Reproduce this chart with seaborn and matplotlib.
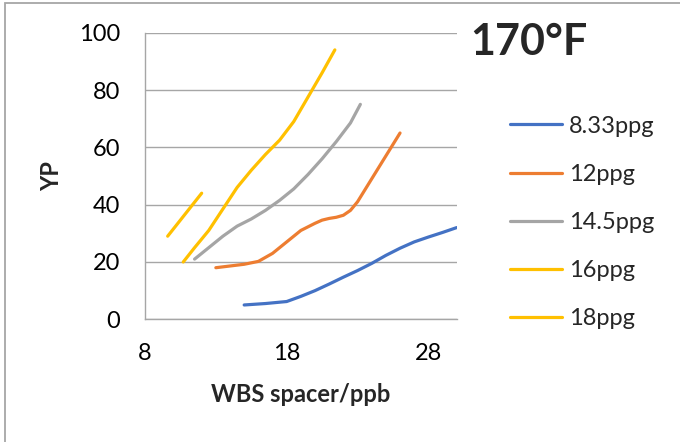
import matplotlib
matplotlib.use("Agg")
import matplotlib.pyplot as plt
import seaborn as sns
import pandas as pd
from matplotlib.patches import Rectangle

# Data (YP vs WBS spacer, 170 F)
x_833 = [15, 16.5, 18, 19, 20, 21, 22, 23, 24, 25, 26, 27, 28, 29, 30]
y_833 = [5, 5.5, 6.2, 8, 10, 12.3, 14.7, 17, 19.5, 22.3, 24.8, 27, 28.7, 30.3, 32]

x_12 = [13, 14, 15, 16, 17, 18, 19, 20, 20.5, 21, 21.5, 22, 22.5, 23, 24, 25, 26]
y_12 = [18, 18.6, 19.2, 20.2, 23, 27, 31, 33.5, 34.6, 35.2, 35.6, 36.3, 38, 41, 49, 57, 65]

x_145 = [11.5, 12.5, 13.5, 14.5, 15.5, 16.5, 17.5, 18.5, 19.5, 20.5, 21.5, 22.5, 23.2]
y_145 = [21, 25, 29, 32.5, 35, 38, 41.5, 45.5, 50.5, 56, 62, 68.5, 75]

x_16 = [10.7, 11.5, 12.5, 13.5, 14.5, 15.5, 16.5, 17.5, 18.5, 19.5, 20.5, 21.4]
y_16 = [20, 25, 31, 38.5, 46, 52, 57.5, 62.5, 69, 77.5, 86, 94]

x_18 = [9.6, 12]
y_18 = [29, 44]

labels = ["8.33ppg", "12ppg", "14.5ppg", "16ppg", "18ppg"]
colors = ["#4472C4", "#ED7D31", "#A5A5A5", "#FFC000", "#FFC000"]
x_ticks = [8, 18, 28]
y_ticks = [0, 20, 40, 60, 80, 100]

sns.set_theme(style="white")
plt.rcParams["font.family"] = ["Lato", "DejaVu Sans"]

frames = []
for lab, xs, ys in zip(labels, [x_833, x_12, x_145, x_16, x_18],
                       [y_833, y_12, y_145, y_16, y_18]):
    frames.append(pd.DataFrame({"x": xs, "y": ys, "series": lab}))
df = pd.concat(frames, ignore_index=True)

fig = plt.figure(figsize=(6.8, 4.42), dpi=100)
ax = fig.add_axes([145 / 680, 1 - 319.3 / 442, (456.7 - 145) / 680, (319.3 - 32.7) / 442])

sns.lineplot(data=df, x="x", y="y", hue="series", hue_order=labels,
             palette=dict(zip(labels, colors)), sort=False, estimator=None,
             linewidth=2.3, ax=ax, legend=False)
for ln in ax.lines:
    ln.set_solid_joinstyle("round")
    ln.set_solid_capstyle("round")

grid_col = "#A6A6A6"
ax.set_xlim(8, 30)
ax.set_ylim(0, 100)
ax.set_xticks(x_ticks)
ax.set_yticks(y_ticks)
ax.yaxis.grid(True, color=grid_col, linewidth=1)
ax.xaxis.grid(False)
for s in ["top", "right"]:
    ax.spines[s].set_visible(False)
for s in ["left", "bottom"]:
    ax.spines[s].set_color(grid_col)
    ax.spines[s].set_linewidth(1)
ax.tick_params(axis="both", which="major", direction="out", length=6,
               width=1, color=grid_col, labelsize=17, labelcolor="black")
ax.tick_params(axis="y", pad=12)
ax.tick_params(axis="x", pad=11)

ax.set_xlabel("")
ax.set_ylabel("")
fig.text(301 / 680, 1 - 394 / 442, "WBS spacer/ppb", ha="center", va="center",
         fontsize=17, fontweight="bold")
fig.text(52 / 680, 1 - 176 / 442, "YP", ha="center", va="center",
         rotation=90, fontsize=17, fontweight="bold")
fig.text(470 / 680, 1 - 55 / 442, "170\u00b0F", ha="left", va="baseline",
         fontsize=31, fontweight="bold")

handles = [plt.Line2D([], [], color=c, linewidth=2.3) for c in colors]
ax.legend(handles, labels, loc="center left", bbox_to_anchor=(510 / 680, 1 - 222.5 / 442),
          bbox_transform=fig.transFigure, frameon=False, fontsize=17,
          handlelength=2.2, handletextpad=0.3, labelspacing=1.15,
          borderpad=0, borderaxespad=0)

# chart-area border (cropped at right/bottom in the reference)
fig.patches.append(Rectangle((5 / 680, -0.1), 1.2, 1 - 3.5 / 442 + 0.1,
                             transform=fig.transFigure, fill=False,
                             edgecolor="#A6A6A6", linewidth=1.3))

fig.savefig("out.png", dpi=100)
